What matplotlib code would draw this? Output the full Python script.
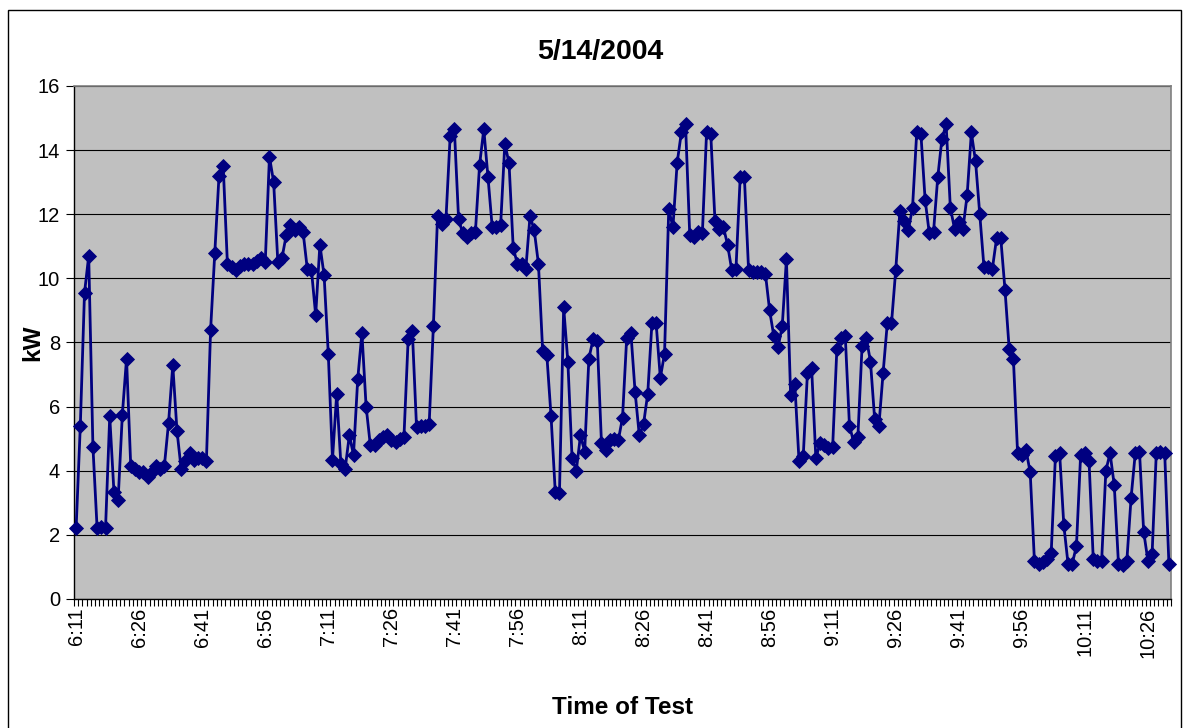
import matplotlib
matplotlib.use("Agg")
import matplotlib.pyplot as plt
from matplotlib.patches import Rectangle
import numpy as np

plt.rcParams['font.family'] = ['Liberation Sans', 'DejaVu Sans']

title = "5/14/2004"
x_title = "Time of Test"
y_title = "kW"

# one reading per minute, 6:11 through 10:31
kw = [
    2.2, 5.4, 9.55, 10.7, 4.75, 2.2, 2.25, 2.2, 5.7, 3.35,
    3.1, 5.75, 7.5, 4.15, 4.05, 3.95, 3.95, 3.8, 3.95, 4.15,
    4.05, 4.15, 5.5, 7.3, 5.25, 4.05, 4.3, 4.55, 4.35, 4.4,
    4.4, 4.3, 8.4, 10.8, 13.2, 13.5, 10.45, 10.35, 10.25, 10.4,
    10.45, 10.45, 10.45, 10.55, 10.65, 10.5, 13.8, 13.0, 10.5, 10.65,
    11.35, 11.65, 11.5, 11.6, 11.45, 10.3, 10.25, 8.85, 11.05, 10.1,
    7.65, 4.35, 6.4, 4.2, 4.05, 5.1, 4.5, 6.85, 8.3, 6.0,
    4.8, 4.8, 4.95, 5.05, 5.1, 4.95, 4.9, 5.0, 5.05, 8.1,
    8.35, 5.35, 5.4, 5.4, 5.45, 8.5, 11.95, 11.7, 11.85, 14.45,
    14.65, 11.85, 11.4, 11.3, 11.4, 11.45, 13.55, 14.65, 13.15, 11.6,
    11.6, 11.65, 14.2, 13.6, 10.95, 10.45, 10.45, 10.3, 11.95, 11.5,
    10.45, 7.75, 7.6, 5.7, 3.35, 3.3, 9.1, 7.4, 4.4, 4.0,
    5.1, 4.6, 7.5, 8.1, 8.05, 4.85, 4.65, 4.95, 5.0, 4.95,
    5.65, 8.15, 8.3, 6.45, 5.1, 5.45, 6.4, 8.6, 8.6, 6.9,
    7.65, 12.15, 11.6, 13.6, 14.55, 14.8, 11.35, 11.3, 11.45, 11.4,
    14.55, 14.5, 11.8, 11.55, 11.6, 11.05, 10.25, 10.3, 13.15, 13.15,
    10.25, 10.2, 10.2, 10.2, 10.15, 9.0, 8.2, 7.85, 8.5, 10.6,
    6.35, 6.7, 4.3, 4.45, 7.05, 7.2, 4.4, 4.85, 4.8, 4.7,
    4.75, 7.8, 8.15, 8.2, 5.4, 4.9, 5.05, 7.9, 8.15, 7.4,
    5.6, 5.4, 7.05, 8.6, 8.6, 10.25, 12.1, 11.8, 11.5, 12.2,
    14.55, 14.5, 12.45, 11.4, 11.45, 13.15, 14.35, 14.8, 12.2, 11.55,
    11.75, 11.55, 12.6, 14.55, 13.65, 12.0, 10.35, 10.35, 10.3, 11.25,
    11.25, 9.65, 7.8, 7.5, 4.55, 4.5, 4.65, 3.95, 1.2, 1.1,
    1.15, 1.25, 1.45, 4.45, 4.55, 2.3, 1.1, 1.1, 1.65, 4.5,
    4.55, 4.3, 1.25, 1.2, 1.2, 4.0, 4.55, 3.55, 1.1, 1.05,
    1.2, 3.15, 4.55, 4.6, 2.1, 1.2, 1.4, 4.55, 4.6, 4.55,
    1.1,
]

tick_labels = ["6:11", "6:26", "6:41", "6:56", "7:11", "7:26", "7:41", "7:56",
               "8:11", "8:26", "8:41", "8:56", "9:11", "9:26", "9:41", "9:56",
               "10:11", "10:26"]
label_every = 15

W, H = 1189, 728
fig = plt.figure(figsize=(W / 100, H / 100), dpi=100)
fig.patch.set_facecolor("white")

# outer chart border
fig.add_artist(Rectangle((8 / W, -0.01), (1181 - 8) / W, 1 - 10 / H + 0.01,
                         transform=fig.transFigure, fill=False,
                         edgecolor="black", linewidth=1.0))

left, right, top, bottom = 74, 1171, 86, 599
ax = fig.add_axes([left / W, 1 - bottom / H, (right - left) / W, (bottom - top) / H])
ax.set_facecolor("#C0C0C0")

n = len(kw)
x = np.arange(n)
ax.plot(x, kw, color="#000080", linewidth=2.0, marker="D", markersize=7.2,
        markerfacecolor="#000080", markeredgecolor="#000080",
        markeredgewidth=0.6, zorder=3, clip_on=False)

ax.set_xlim(-0.5, n - 0.5)
ax.set_ylim(0, 16)

ax.set_yticks(np.arange(0, 17, 2))
ax.yaxis.grid(True, color="black", linewidth=0.8)
ax.set_axisbelow(True)

# category labels every 15 minutes, tick marks between every category
ax.set_xticks(np.arange(0, n, label_every))
ax.set_xticklabels(tick_labels, rotation=90, fontsize=14.5)
ax.set_xticks(np.arange(-0.5, n, 1), minor=True)
ax.tick_params(axis="x", which="major", length=0, pad=6)
ax.tick_params(axis="x", which="minor", length=5, width=0.8, color="black", direction="out")
ax.tick_params(axis="y", which="major", length=6, width=0.8, color="black",
               direction="out", labelsize=14.5, pad=4)

for side in ("top", "right"):
    ax.spines[side].set_color("#808080")
    ax.spines[side].set_linewidth(1.2)
for side in ("left", "bottom"):
    ax.spines[side].set_color("black")
    ax.spines[side].set_linewidth(1.0)

fig.text(600 / W, 1 - 52 / H, title, ha="center", va="center",
         fontsize=20.5, fontweight="bold")
fig.text(623 / W, 1 - 708 / H, x_title, ha="center", va="center",
         fontsize=17.5, fontweight="bold")
fig.text(33 / W, 1 - 343 / H, y_title, ha="center", va="center",
         rotation=90, fontsize=17.5, fontweight="bold")

fig.savefig("out.png", dpi=100)
